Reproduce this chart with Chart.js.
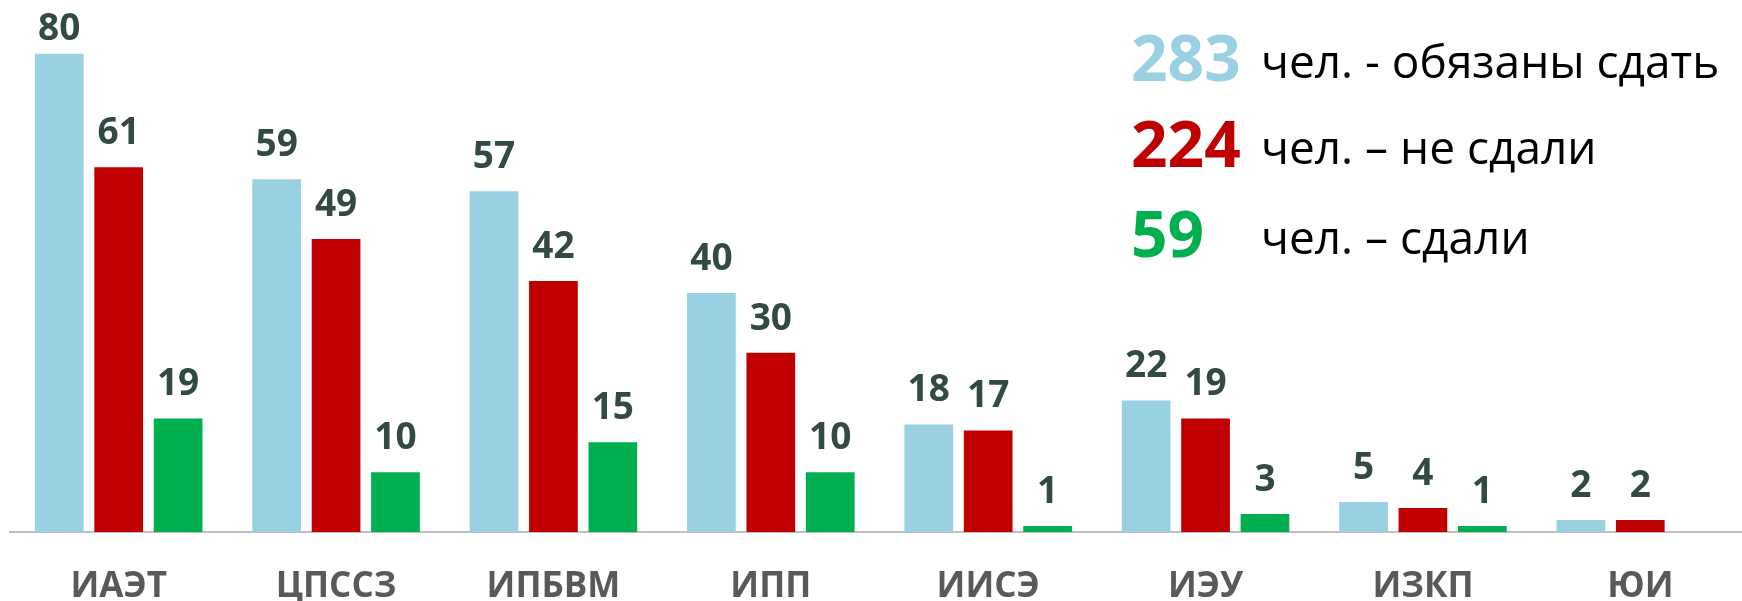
<!DOCTYPE html>
<html>
<head>
<meta charset="utf-8">
<script src="https://cdn.jsdelivr.net/npm/chart.js@4.4.1/dist/chart.umd.min.js"></script>
<style>
  html, body { margin: 0; padding: 0; background: #fff; overflow: hidden; width: 1742px; height: 601px; }
  #wrap { position: relative; width: 1750px; height: 643px; }
  canvas { display: block; }
  .leg { position: absolute; left: 1131px; font-family: "Open Sans", sans-serif; white-space: nowrap; }
  .leg .num { position: absolute; left: 0; font-weight: 700; font-size: 64px; line-height: 1; }
  .leg .txt { position: absolute; left: 130px; font-size: 46px; color: #000; line-height: 1; }
</style>
</head>
<body>
<div id="wrap">
  <canvas id="c" width="1750" height="643"></canvas>
</div>
<script>
const categories = ["ИАЭТ", "ЦПССЗ", "ИПБВМ", "ИПП", "ИИСЭ", "ИЭУ", "ИЗКП", "ЮИ"];
const mustPass = [80, 59, 57, 40, 18, 22, 5, 2];
const notPassed = [61, 49, 42, 30, 17, 19, 4, 2];
const passed = [19, 10, 15, 10, 1, 3, 1, 0];
const legendNumbers = ["283", "224", "59"];
const legendTexts = ["чел. - обязаны сдать", "чел. – не сдали", "чел. – сдали"];

const colors = ["#99D1E3", "#C00000", "#00B050"];

const valueLabels = {
  id: "valueLabels",
  afterDatasetsDraw(chart) {
    const ctx = chart.ctx;
    ctx.save();
    ctx.font = "700 37px 'Open Sans'";
    ctx.fillStyle = "#324A40";
    ctx.textAlign = "center";
    ctx.textBaseline = "alphabetic";
    chart.data.datasets.forEach((ds, i) => {
      const meta = chart.getDatasetMeta(i);
      meta.data.forEach((bar, j) => {
        const v = ds.data[j];
        if (!v) return;
        ctx.fillText(String(v), bar.x, Math.max(bar.y - 23, 40));
      });
    });
    ctx.restore();
  }
};

new Chart(document.getElementById("c"), {
  type: "bar",
  data: {
    labels: categories,
    datasets: [
      { label: "обязаны сдать", data: mustPass, backgroundColor: colors[0] },
      { label: "не сдали", data: notPassed, backgroundColor: colors[1] },
      { label: "сдали", data: passed, backgroundColor: colors[2] }
    ]
  },
  options: {
    responsive: false,
    animation: false,
    events: [],
    layout: { padding: { left: 10, right: 1, top: 0, bottom: 1 } },
    datasets: { bar: { categoryPercentage: 0.82, barPercentage: 0.82 } },
    plugins: { legend: { display: false }, tooltip: { enabled: false } },
    scales: {
      x: {
        grid: { display: false, drawTicks: false },
        border: { display: true, color: "#BFBFBF", width: 2 },
        ticks: {
          color: "#595959",
          font: { family: "'Open Sans'", size: 35, weight: "700", lineHeight: 1.2 },
          padding: 34
        }
      },
      y: {
        display: false,
        min: 0,
        max: 89
      }
    }
  },
  plugins: [valueLabels]
});

const wrap = document.getElementById("wrap");
const tops = [25, 111, 201];
const numColors = ["#99D1E3", "#C00000", "#00B050"];
legendNumbers.forEach((n, i) => {
  const row = document.createElement("div");
  row.className = "leg";
  row.style.top = tops[i] + "px";
  const num = document.createElement("span");
  num.className = "num";
  num.style.color = numColors[i];
  num.textContent = n;
  const txt = document.createElement("span");
  txt.className = "txt";
  txt.style.top = "12px";
  txt.textContent = legendTexts[i];
  row.appendChild(num);
  row.appendChild(txt);
  wrap.appendChild(row);
});
</script>
</body>
</html>
